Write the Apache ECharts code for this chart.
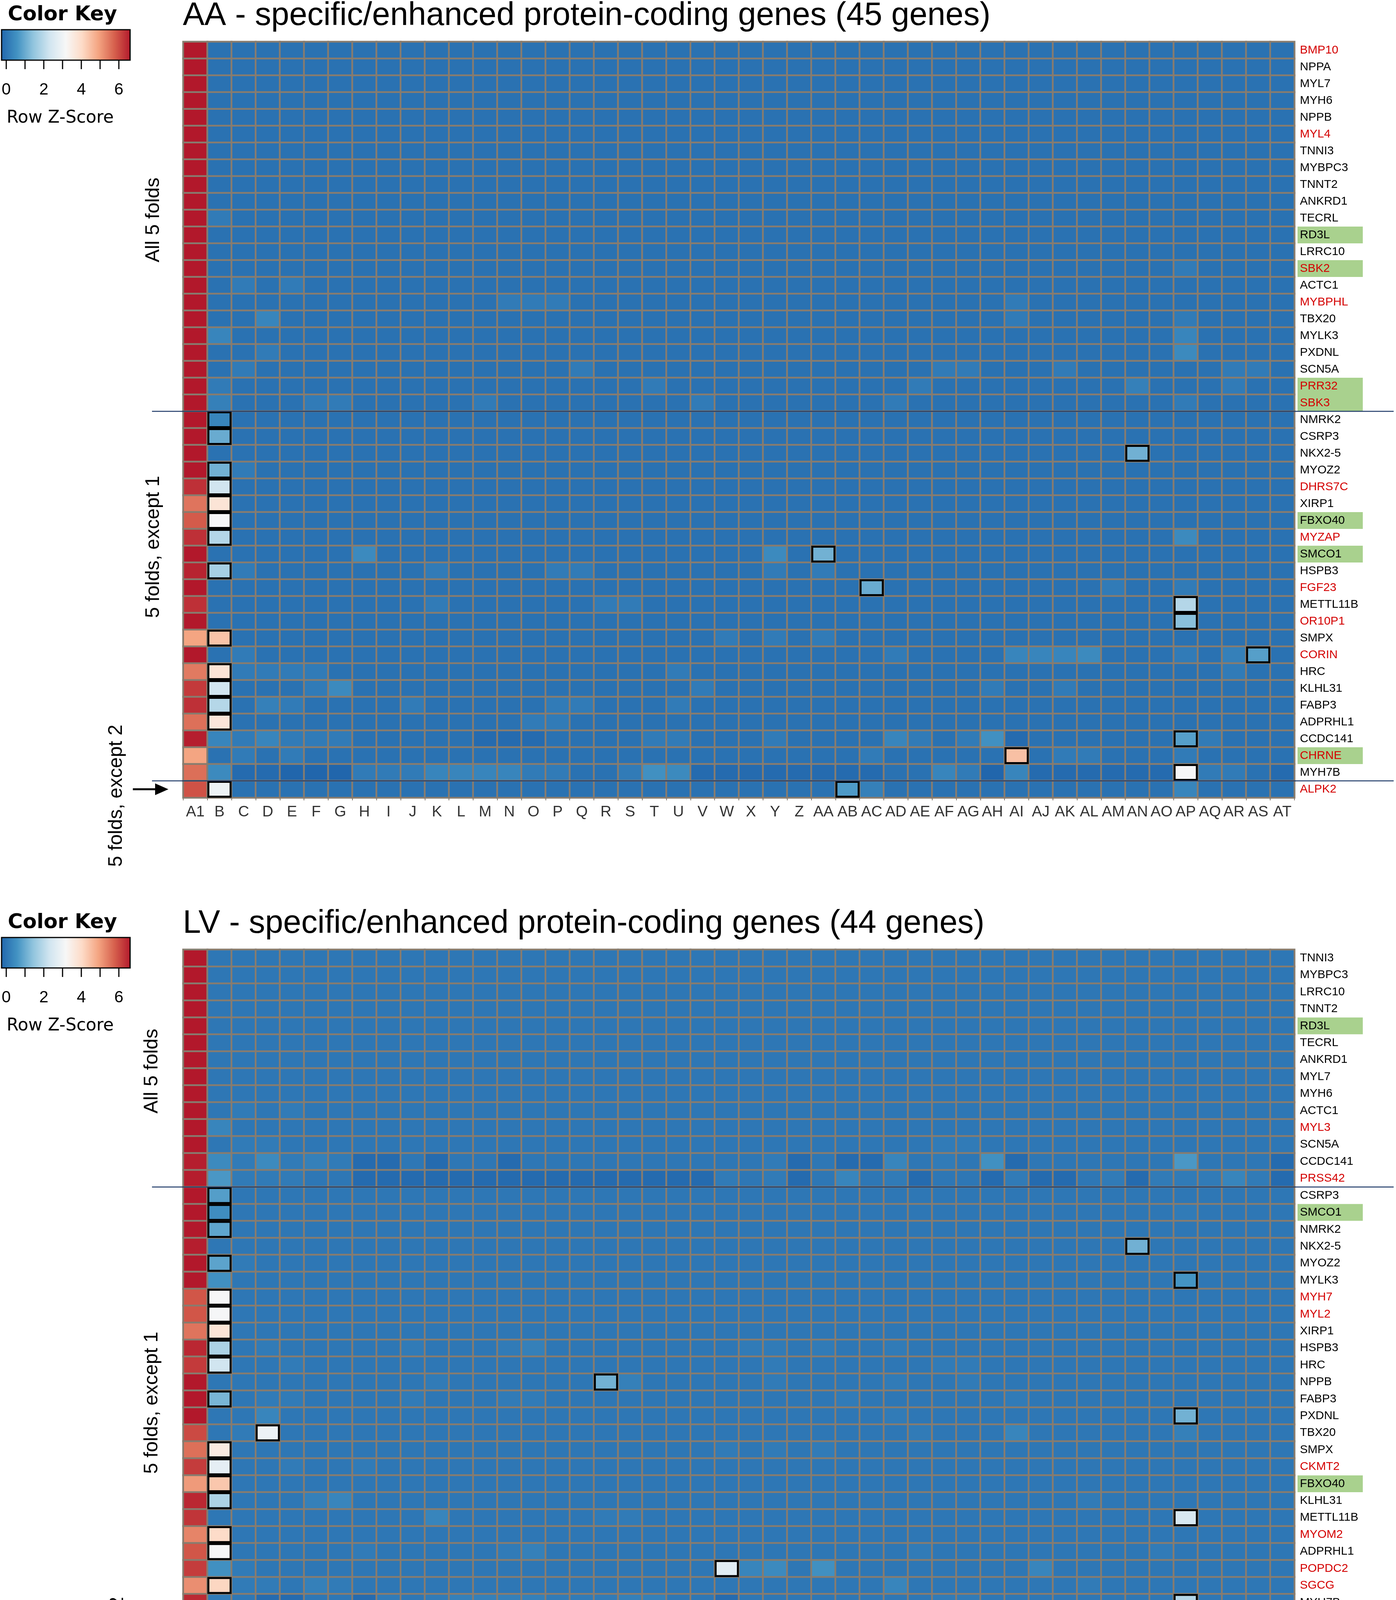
<!DOCTYPE html>
<html>
<head>
<meta charset="utf-8">
<script src="https://cdn.jsdelivr.net/npm/echarts@6/dist/echarts.min.js"></script>
<style>
  html, body { margin: 0; padding: 0; background: #fff; overflow: hidden; }
  #chart { width: 3573px; height: 4451px; }
</style>
</head>
<body>
<div id="chart"></div>
<script>
// ---- data -------------------------------------------------------------
const COLS_REST = ['B','C','D','E','F','G','H','I','J','K','L','M','N','O','P','Q','R','S','T','U','V','W','X','Y','Z',
  'AA','AB','AC','AD','AE','AF','AG','AH','AI','AJ','AK','AL','AM','AN','AO','AP','AQ','AR','AS','AT'];
const colsAA = ['A1'].concat(COLS_REST);
const colsLV = ['A2'].concat(COLS_REST);

const genesAA = ['BMP10','NPPA','MYL7','MYH6','NPPB','MYL4','TNNI3','MYBPC3','TNNT2','ANKRD1','TECRL','RD3L','LRRC10',
  'SBK2','ACTC1','MYBPHL','TBX20','MYLK3','PXDNL','SCN5A','PRR32','SBK3','NMRK2','CSRP3','NKX2-5','MYOZ2','DHRS7C',
  'XIRP1','FBXO40','MYZAP','SMCO1','HSPB3','FGF23','METTL11B','OR10P1','SMPX','CORIN','HRC','KLHL31','FABP3',
  'ADPRHL1','CCDC141','CHRNE','MYH7B','ALPK2'];
const redAA = ['BMP10','MYL4','SBK2','MYBPHL','PRR32','SBK3','DHRS7C','MYZAP','FGF23','OR10P1','CORIN','CHRNE','ALPK2'];
const greenAA = ['RD3L','SBK2','PRR32','SBK3','FBXO40','SMCO1','CHRNE'];

const genesLV = ['TNNI3','MYBPC3','LRRC10','TNNT2','RD3L','TECRL','ANKRD1','MYL7','MYH6','ACTC1','MYL3','SCN5A',
  'CCDC141','PRSS42','CSRP3','SMCO1','NMRK2','NKX2-5','MYOZ2','MYLK3','MYH7','MYL2','XIRP1','HSPB3','HRC','NPPB',
  'FABP3','PXDNL','TBX20','SMPX','CKMT2','FBXO40','KLHL31','METTL11B','MYOM2','ADPRHL1','POPDC2','SGCG','MYH7B',
  'NPPA','GJA3','LDB3','RYR2','SLC25A4'];
const redLV = ['MYL3','PRSS42','MYH7','MYL2','CKMT2','MYOM2','POPDC2','SGCG','GJA3','LDB3','RYR2','SLC25A4'];
const greenLV = ['RD3L','SMCO1','FBXO40'];

// row z-score of the first column (A1 / A2), one per gene
const firstAA = [6.6,6.6,6.6,6.6,6.6,6.6,6.6,6.6,6.6,6.6,6.6,6.6,6.6,6.6,6.6,6.6,6.6,6.6,6.6,6.6,6.6,6.6,
  6.6,6.6,6.6,6.6,6.31,5.49,5.8,6.31,6.6,6.47,6.6,6.31,6.6,4.89,6.6,5.42,6.2,6.31,5.55,6.53,4.89,5.56,5.91];
const firstLV = [6.6,6.6,6.6,6.6,6.6,6.6,6.6,6.6,6.6,6.6,6.6,6.6,6.53,6.54,
  6.6,6.6,6.6,6.53,6.6,6.6,5.86,5.86,5.49,6.42,6.2,6.6,6.6,6.6,6.0,5.55,6.17,5.02,6.42,6.26,5.3,5.86,6.17,5.17,
  6.39,6.53,5.86,5.17,6.17,5.62];

// z-score levels of the blue background cells (columns B..AT), read by shade
const LEVEL = { '0': -0.25, '1': -0.15, '.': -0.03, ',': 0.07, 's': 0.15, 't': 0.25,
  'l': 0.34, 'm': 0.43, 'n': 0.55, 'p': 0.68 };

// columns B-F | G-K | L-P | Q-U | V-Z | AA-AE | AF-AJ | AK-AO | AP-AT
const rowsAA = [
  '..... ..... ..... ..... ..... ..... ..... ..... .....', // BMP10
  '..... ..... ..... ..... ..... ..... ..... ..... .....', // NPPA
  '..... ..... ..... ..... ..... ..... ..... ..... .....', // MYL7
  '..... ..... ..... ..... ..... ..... ..... ..... .....', // MYH6
  '..... ..... ..... ..... ..... ..... ..... ..... .....', // NPPB
  '..... ..... ..... ..... ..... ..... ..... ..... .....', // MYL4
  '..... ..... ..... ..... ..... ..... ..... ..... .....', // TNNI3
  '..... ..... ..... ..... ..... ..... ..... ..... .....', // MYBPC3
  '..... ..... ..... ..... ..... ..... ..... ..... .....', // TNNT2
  '..... ..... ..... ..... ..... ..... ..... ..... .....', // ANKRD1
  's.... ..... ..... ..... ..... ..... ..... ..... .....', // TECRL
  '..... ..... ..... ..... ..... ..... ..... ..... .....', // RD3L
  '..... ..... ..... ..... ..... ..... ..... ..... .....', // LRRC10
  '..... ..... ..... ..... ..... ..... ..... ..... s....', // SBK2
  '.s.s. ..... ..... ..... ..... ..... ..... ..... .....', // ACTC1
  '..... ..... ..sss ..... ..... ..... ...s. ..... .....', // MYBPHL
  '..l.. ..... ..... ..... ..... ..... ...s. ..... s....', // TBX20
  'l.... ..... ..... ..... ..... ..... ..... ..... l....', // MYLK3
  '..s.. ..... ..... ..... ..... ..... ..... ..... m....', // PXDNL
  '.s... ..... ..... s.... ..... ..... ss... s.... ..ss.', // SCN5A
  's.... ..... ..... ...s. ..... ....s ..... ...t. ..s..', // PRR32
  't...s s.... .s... ..... s.... ...s. ..... ..... s....', // SBK3
  '..... ..... ..... ..... ..... ..... ..... ..... .....', // NMRK2
  '..... ..... ..... ..... ..... ..... ..... ..... .....', // CSRP3
  '..... ..... ..... ..... ..... ..... ..... ..... .....', // NKX2-5
  '.s... ..... ..... ..... ..... ..... ..... ..... .....', // MYOZ2
  '..... ..... ..... ..... ..... ..... ..... ..... .....', // DHRS7C
  '..... ..... ..... ..... ..... ..... ..... ..... .....', // XIRP1
  '..... ..... ..... ..... ..... ..... ..... ..... .....', // FBXO40
  '..... ..... ..... ..... ..... ..... ..... ..... m....', // MYZAP
  '..... .m... ..... ..... ...m. ..... ..... ..... .....', // SMCO1
  '.s... ....s ....s s.... ...s. s.... ..... ..... .....', // HSPB3
  '..... ..... ..... ..... ..... ..... ..... ..s.. s....', // FGF23
  '..... ....s ..... .ss.. ..... ..... ..... ..... .....', // METTL11B
  '..... ..... ..... ..... ..... ..... ..... ..... .....', // OR10P1
  '..... ..... ..... ..... .s.s. s.... ..... ..... .....', // SMPX
  '.s... ..... ..... ..... ..... ...s. ...ll lm... s.t..', // CORIN
  '.ssss ..... ..... ....s ..... ..... ..... ..... ..s..', // HRC
  '....s m.... ..... ..... s.... ..... ..s.. s.... .....', // KLHL31
  '..ts. ...s. ....s s...s ..... ..... ..... ..... .....', // FABP3
  '..... ..... ...ss ..... ..... ..... ..... ..... .....', // ADPRHL1
  'lslss s.... .111. ...ss ...s. ...ls .sn1. ..... .s...', // CCDC141
  '.s.s. ..... ..... ..... ..... ..s.. ..... ss... s....', // CHRNE
  'm1100 0sssl lllss ..snm 11111 111.. ls0l1 11111 .ss.1', // MYH7B
  '..... ..... ..... ..... ..... ..t.. ..... ..... l....'  // ALPK2
];

const rowsLV = [
  ',,,,, ,,,,, ,,,,, ,,,,, ,,,,, ,,,,, ,,,,, ,,,,, ,,,,,', // TNNI3
  ',,,,, ,,,,, ,,,,, ,,,,, ,,,,, ,,,,, ,,,,, ,,,,, ,,,,,', // MYBPC3
  ',,,,, ,,,,, ,,,,, ,,,,, ,,,,, ,,,,, ,,,,, ,,,,, ,,,,,', // LRRC10
  ',,,,, ,,,,, ,,,,, ,,,,, ,,,,, ,,,,, ,,,,, ,,,,, ,,,,,', // TNNT2
  ',,,,, ,,,,, ,,,,, ,,,,, ,,,,, ,,,,, ,,,,, ,,,,, ,,,,,', // RD3L
  ',,,,, ,,,,, ,,,,, ,,,,, ,,,,, ,,,,, ,,,,, ,,,,, ,,,,,', // TECRL
  ',,,,, ,,,,, ,,,,, ,,,,, ,,,,, ,,,,, ,,,,, ,,,,, ,,,,,', // ANKRD1
  ',,,,, ,,,,, ,,,,, ,,,,, ,,,,, ,,,,, ,,,,, ,,,,, ,,,,,', // MYL7
  ',,,,, ,,,,, ,,,,, ,,,,, ,,,,, ,,,,, ,,,,, ,,,,, ,,,,,', // MYH6
  ',s,s, ,,,,, ,,,,, ,,,,, ,,,,, ,,,,, ,,,,, ,,,,, ,,,,,', // ACTC1
  'l,,,, ,,,,, ,,,,, ,,,,, ,,,,, ,,,,, ,,,,, ,,,,, ,,,,,', // MYL3
  ',ss,, ,,,,, ,,,,, ,,,,, ,,,,, ,,,,, ss,,, ,,,,, ,,,,,', // SCN5A
  'msmst s11,1 ,,1,, ,,,,, ,,,s1 ,11l, s,n1, ,,,,, p,,,1', // CCDC141
  'psss, ,1111 11111 11111 1s,s1 ,l,s1 ,,1s1 1,s1s ssls1', // PRSS42
  ',,,,, ,,,,, ,,,,, ,,,,, ,,,,, ,,,,, ,,,,, ,,,,, ,,,,,', // CSRP3
  ',,,,, ,,,,, ,,,,, ,,,,, ,,,,, ,,,,, ,,,,, ,,,,, s,,,,', // SMCO1
  ',,,,, ,,,,, ,,,,, ,,,,, ,,,,, ,,,,, ,,,,, ,,,,, ,,,,,', // NMRK2
  ',,,,, ,,,,, ,,,,, ,,,,, ,,,,, ,,,,, ,,,,, ,,,,, ,,,,,', // NKX2-5
  ',s,,, ,,,,, ,,,,, ,,,,, ,,,,, ,,,,, ,,,,, ,,,,, ,,,,,', // MYOZ2
  'n,,,, ,,,,, ,,,,, ,,,,, ,,,,, ,,,,, ,,,,, ,,,,, ,,,,,', // MYLK3
  ',,,,, ,,,,, ,,,,, ,,,,, ,,,,, ,,,,, ,,,,, ,,,,, ,,,,,', // MYH7
  ',,,,, ,,,,, ,,,,, ,,,,, ,,,,, ,,,,, ,,,,, ,,,,, ,,,,,', // MYL2
  ',,,,, ,,,,, ,,,,, ,,,,, ,,,,, ,,,,, ,,,,, ,,,,, ,,,,,', // XIRP1
  ',,s,, ,,,s, ,,st, ,,,,, ,,ss, s,,s, ,,,,, ,,,,, ,,,,,', // HSPB3
  ',,,s, ,,,,, ,,,,, ,,,,, ,,,s, ,,,,, ss,,, ,,,,, ,,,,,', // HRC
  ',,,,, ,,,,s ,,,,, ,,t,, ,,,s, ,,,s, ,s,,, ,,,,, ,,,,,', // NPPB
  ',,ss, ,,,s, ,,ss, ,,,,, ,,,,, ,s,,, ,,,s, ,,,,, ,,,,,', // FABP3
  ',,l,, ,,,,, ,,,,, ,,,,, ,,,,, ,,,s, ,,,,, ,,,,, ,,,,,', // PXDNL
  ',s,,, ,,,,, ,,,,, ,,,,, ,,,,, ,,,,s ,,,l, ,,,,, t,,,,', // TBX20
  ',,,,, ,,,,, ,,,,, ,,,,, ,s,s, s,,,, ,,,,, ,,,,, ,,,,,', // SMPX
  ',,,s, ,s,,, ,,,,, ,,,,, ,,,,, ,,,,, ,,,,, ,,,,, ,,,,,', // CKMT2
  ',,,,, ,,,,, ,,,,, ,,,,, ,,,,, ,,,,, ,,,,, ,,,,, ,,,,,', // FBXO40
  ',,,,t l,,,, ,,,,, ,,,,, ,,,,, ,,,,, ,,,,, ,s,,, ,,,,,', // KLHL31
  ',,,,, ,,,,l ,,,,, ,ss,, ,,,,, ,,,,, ,,,,, ,,,,, ,,,,,', // METTL11B
  ',,,,, ,,,,, ,,,,, ,,,,, ,,,,, ,,,,, ,,,,, ,,,,, ,,,,,', // MYOM2
  ',,,,, ,s,,, ,,st, ,,,,, ,,,,, ,,,,s ,,,,, ,,,,s ,,,,,', // ADPRHL1
  'ns,,, ,,,,, ,,,,, ,,,,, ,,lm, n,,,, ,,,,l ,,,,, ,,,,,', // POPDC2
  ',ss,t s,,,, ,,,,, ,,,,, ,,,,, ,,,l, ,,,,, ,s,,, ,,,,,', // SGCG
  's,11, ,1s,s tttts sstt, ,1,,, ,,,,, ss,,, ,,,,, ,,,,,', // MYH7B
  'ss,s, s1,t1 ,,mt, ,10,1 ,s,s, ,,,l, s,0ll s,,,, ,ss,,', // NPPA
  ',s,,, ,,,,s ,,,,, ,s,,, ,,,,l ,l,,, ,,,,, ,,,s, ,,,s,', // GJA3
  ',ml,, ,,,,, ,,,,, ,,s,, ,s,s, s,,,, ,,,,, ,,,,, ,,,,,', // LDB3
  '1lln, ,,,,s ,,sl, ,l,,, ,,,s, m,,s, ,s,,, ,,,,, ,,,,,', // RYR2
  ',nll0 11111 ,ntl, ,,,,, ,n,m1 n,,,, ,,0,1 1111s ,,,,0'  // SLC25A4
];

// outlined cells: [row, column, z-score]
const boxesAA = [
  [22,'B',0.34],[23,'B',1.02],[24,'AN',1.1],[25,'B',1.12],[26,'B',2.32],[27,'B',3.76],[28,'B',3.15],
  [29,'B',1.92],[30,'AA',1.12],[31,'B',1.73],[32,'AC',1.02],[33,'AP',1.92],[34,'AP',1.38],[35,'B',4.41],
  [36,'AS',0.81],[37,'B',3.76],[38,'B',2.32],[39,'B',1.94],[40,'B',3.69],[41,'AP',0.81],[42,'AI',4.46],
  [43,'AP',3.15],[44,'B',2.95],[44,'AB',0.73]
];
const boxesLV = [
  [14,'B',0.79],[15,'B',0.5],[16,'B',0.91],[17,'AN',1.1],[18,'B',0.88],[19,'AP',0.62],[20,'B',3.15],
  [21,'B',3.12],[22,'B',3.76],[23,'B',1.81],[24,'B',2.32],[25,'R',1.12],[26,'B',1.19],[27,'AP',1.12],
  [28,'D',2.95],[29,'B',3.57],[30,'B',2.77],[31,'B',4.35],[32,'B',1.81],[33,'AP',2.47],[34,'B',4.0],
  [35,'B',3.15],[36,'W',2.7],[37,'B',4.09],[38,'AP',1.92],[39,'AP',1.26],[40,'D',2.18],[40,'AP',2.27],
  [41,'B',3.85],[41,'E',0.73],[42,'L',1.22],[42,'M',1.27],[43,'B',2.95],[43,'L',0.75]
];

const keyTicks = [0, 1, 2, 3, 4, 5, 6];
const keyLabels = [0, 2, 4, 6];
const Z_MIN = -0.25, Z_MAX = 6.6;
const COLORS = ['#2166ac','#4393c3','#92c5de','#d1e5f0','#f7f7f7','#fddbc7','#f4a582','#d6604d','#b2182b'];

// ---- build ------------------------------------------------------------
function buildCells(first, rows, boxes, cols) {
  const data = [];
  rows.forEach((s, r) => {
    const codes = s.replace(/ /g, '');
    data.push([0, r, first[r]]);
    for (let c = 1; c < cols.length; c++) data.push([c, r, LEVEL[codes[c - 1]]]);
  });
  boxes.forEach(b => {
    const c = cols.indexOf(b[1]);
    data[b[0] * cols.length + c][2] = b[2];
  });
  return data;
}
function boxCells(boxes, cols) {
  return boxes.map(b => [cols.indexOf(b[1]), b[0]]);
}

const GRID_L = 469, GRID_W = 2844;
const P1 = { top: 107, h: 1935 };
const P2 = { top: 2431, h: 1910 };
const OFF = 2324; // vertical offset of the second panel's decorations
const GRID_LINE = '#877c6f';
const FONT = '"Liberation Sans", Arial, sans-serif';

function labelRich() {
  const base = { fontSize: 30, fontFamily: FONT, padding: [0, 0, 0, 6], lineHeight: 43 };
  const green = { backgroundColor: '#a9d18e', width: 161, height: 43 };
  return {
    k: Object.assign({ color: '#000' }, base),
    r: Object.assign({ color: '#d40000' }, base),
    kg: Object.assign({ color: '#000' }, base, green),
    rg: Object.assign({ color: '#d40000' }, base, green)
  };
}
function geneFormatter(red, green) {
  return name => '{' + (red.includes(name) ? 'r' : 'k') + (green.includes(name) ? 'g' : '') + '|' + name + '}';
}

function xAxis(gi, cols, margin) {
  return {
    gridIndex: gi, type: 'category', data: cols, position: 'bottom',
    axisLine: { show: true, lineStyle: { color: GRID_LINE, width: 4 } },
    axisTick: { show: true, interval: 0, length: 7, lineStyle: { color: GRID_LINE, width: 2 } },
    axisLabel: { interval: 0, margin: margin, fontSize: 39, color: '#333', fontFamily: FONT },
    splitLine: { show: false }
  };
}
function yAxis(gi, genes, red, green) {
  return {
    gridIndex: gi, type: 'category', data: genes, inverse: true, position: 'right',
    axisLine: { show: false }, axisTick: { show: false }, splitLine: { show: false },
    axisLabel: { interval: 0, margin: 8, formatter: geneFormatter(red, green), rich: labelRich() }
  };
}
function heat(gi, data) {
  return {
    type: 'heatmap', xAxisIndex: gi, yAxisIndex: gi, data: data, progressive: 0, silent: true,
    itemStyle: { borderColor: GRID_LINE, borderWidth: 4.5 },
    emphasis: { disabled: true }
  };
}
function outline(gi, data) {
  return {
    type: 'custom', xAxisIndex: gi, yAxisIndex: gi, data: data, silent: true, z: 3,
    renderItem: function (params, api) {
      const p = api.coord([api.value(0), api.value(1)]);
      const s = api.size([1, 1]);
      return {
        type: 'rect',
        shape: { x: p[0] - s[0] / 2 + 2.5, y: p[1] - s[1] / 2 + 2.5, width: s[0] - 5, height: s[1] - 5 },
        style: { fill: 'none', stroke: '#000', lineWidth: 5 }
      };
    }
  };
}

// decorations: title, colour key, group labels, separators, arrows
function txt(x, y, text, font, align, rot) {
  return {
    type: 'text', x: x, y: y, rotation: rot || 0, z: 100, silent: true,
    style: { text: text, font: font, fill: '#000', align: align, verticalAlign: 'middle',
      textAlign: align, textVerticalAlign: 'middle' }
  };
}
function colorKey(dy) {
  const els = [];
  els.push(txt(20, 38 + dy, 'Color Key', 'bold 52px "DejaVu Sans", sans-serif', 'left'));
  els.push({
    type: 'rect', z: 100, silent: true, shape: { x: 4, y: 76 + dy, width: 329, height: 78 },
    style: {
      fill: new echarts.graphic.LinearGradient(0, 0, 1, 0,
        COLORS.map((c, i) => ({ offset: i / (COLORS.length - 1), color: c }))),
      stroke: '#000', lineWidth: 3
    }
  });
  const kx = v => 4 + (v - Z_MIN) / (Z_MAX - Z_MIN) * 329;
  keyTicks.forEach(v => els.push({
    type: 'line', z: 100, silent: true, shape: { x1: kx(v), y1: 154 + dy, x2: kx(v), y2: 177 + dy },
    style: { stroke: '#000', lineWidth: 3 }
  }));
  keyLabels.forEach(v => els.push(txt(kx(v), 230 + dy, String(v), '42px ' + FONT, 'center')));
  els.push(txt(17, 303 + dy, 'Row Z-Score', '44px "DejaVu Sans", sans-serif', 'left'));
  return els;
}
function sepLine(y) {
  return { type: 'line', z: 100, silent: true, shape: { x1: 389, y1: y, x2: 3567, y2: y },
    style: { stroke: '#1f3a68', lineWidth: 2.5 } };
}
function arrow(x1, x2, y) {
  return [
    { type: 'line', z: 100, silent: true, shape: { x1: x1, y1: y, x2: x2 - 30, y2: y },
      style: { stroke: '#000', lineWidth: 5 } },
    { type: 'polygon', z: 100, silent: true,
      shape: { points: [[x2 - 34, y - 15], [x2, y], [x2 - 34, y + 15]] }, style: { fill: '#000' } }
  ];
}

const rh1 = P1.h / genesAA.length, rh2 = P2.h / genesLV.length;
const groupFont = '50px ' + FONT;
const graphics = [].concat(
  txt(468, 41, 'AA - specific/enhanced protein-coding genes (45 genes)', '83px ' + FONT, 'left'),
  txt(468, 41 + OFF, 'LV - specific/enhanced protein-coding genes (44 genes)', '83px ' + FONT, 'left'),
  colorKey(0), colorKey(OFF),
  sepLine(P1.top + 22 * rh1), sepLine(P1.top + 44 * rh1),
  sepLine(P2.top + 14 * rh2), sepLine(P2.top + 40 * rh2),
  txt(393, 563, 'All 5 folds', groupFont, 'center', Math.PI / 2),
  txt(393, 1400, '5 folds, except 1', groupFont, 'center', Math.PI / 2),
  txt(298, 2037, '5 folds, except 2', groupFont, 'center', Math.PI / 2),
  txt(389, 2742, 'All 5 folds', groupFont, 'center', Math.PI / 2),
  txt(389, 3591, '5 folds, except 1', groupFont, 'center', Math.PI / 2),
  txt(301, 4270, '5 folds, except 2', groupFont, 'center', Math.PI / 2),
  arrow(340, 431, P1.top + 44.5 * rh1),
  arrow(340, 440, P2.top + 41.5 * rh2)
);

const chart = echarts.init(document.getElementById('chart'), null, { renderer: 'canvas' });
chart.setOption({
  animation: false,
  backgroundColor: '#fff',
  grid: [
    { left: GRID_L, top: P1.top, width: GRID_W, height: P1.h },
    { left: GRID_L, top: P2.top, width: GRID_W, height: P2.h }
  ],
  xAxis: [xAxis(0, colsAA, 18), xAxis(1, colsLV, 22)],
  yAxis: [yAxis(0, genesAA, redAA, greenAA), yAxis(1, genesLV, redLV, greenLV)],
  visualMap: {
    type: 'continuous', show: false, min: Z_MIN, max: Z_MAX, seriesIndex: [0, 2], dimension: 2,
    inRange: { color: COLORS }
  },
  series: [
    heat(0, buildCells(firstAA, rowsAA, boxesAA, colsAA)),
    outline(0, boxCells(boxesAA, colsAA)),
    heat(1, buildCells(firstLV, rowsLV, boxesLV, colsLV)),
    outline(1, boxCells(boxesLV, colsLV))
  ],
  graphic: { elements: graphics }
});
</script>
</body>
</html>
